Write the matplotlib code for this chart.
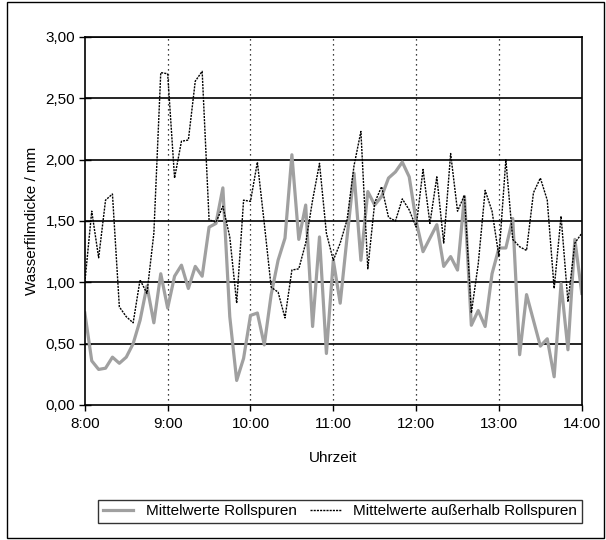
import matplotlib
matplotlib.use("Agg")
import matplotlib.pyplot as plt
import numpy as np
import pandas as pd

plt.rcParams['font.family'] = ['Liberation Sans', 'DejaVu Sans']

# Uhrzeiten im 5-Minuten-Takt (8:00 bis 14:00)
uhrzeit = pd.date_range("2000-01-01 08:00", "2000-01-01 14:00", freq="5min")

# Mittelwerte in den Rollspuren (graue Linie)
rollspuren = [0.75, 0.36, 0.29, 0.30, 0.39, 0.34, 0.39, 0.50, 0.69, 0.97,
              0.67, 1.07, 0.79, 1.05, 1.14, 0.95, 1.13, 1.05, 1.45, 1.48,
              1.77, 0.72, 0.20, 0.38, 0.73, 0.75, 0.49, 0.90, 1.18, 1.36,
              2.04, 1.35, 1.63, 0.64, 1.37, 0.42, 1.18, 0.83, 1.37, 1.89,
              1.18, 1.74, 1.63, 1.70, 1.85, 1.90, 1.98, 1.86, 1.50, 1.25,
              1.36, 1.47, 1.13, 1.21, 1.10, 1.70, 0.65, 0.77, 0.64, 1.07,
              1.28, 1.28, 1.52, 0.41, 0.90, 0.69, 0.48, 0.54, 0.23, 0.99,
              0.45, 1.35, 0.91]

# Mittelwerte ausserhalb der Rollspuren (schwarze gepunktete Linie)
ausserhalb = [1.00, 1.58, 1.20, 1.67, 1.72, 0.80, 0.72, 0.67, 1.02, 0.91,
              1.40, 2.71, 2.70, 1.85, 2.15, 2.16, 2.64, 2.72, 1.51, 1.49,
              1.62, 1.37, 0.83, 1.67, 1.66, 1.98, 1.48, 0.96, 0.92, 0.71,
              1.10, 1.11, 1.32, 1.67, 1.97, 1.40, 1.18, 1.32, 1.51, 1.95,
              2.23, 1.11, 1.65, 1.78, 1.53, 1.50, 1.68, 1.59, 1.45, 1.92,
              1.48, 1.86, 1.32, 2.05, 1.58, 1.71, 0.75, 1.15, 1.75, 1.58,
              1.21, 2.00, 1.35, 1.29, 1.26, 1.73, 1.85, 1.67, 0.95, 1.54,
              0.84, 1.32, 1.40]

x_ticks = ["8:00", "9:00", "10:00", "11:00", "12:00", "13:00", "14:00"]
y_ticks = [0.0, 0.5, 1.0, 1.5, 2.0, 2.5, 3.0]

# Stunden seit 8:00 als x-Achse
stunden = (uhrzeit - uhrzeit[0]).total_seconds() / 3600.0

fig = plt.figure(figsize=(6.06, 5.40), dpi=100)
ax = fig.add_axes([0.140, 0.250, 0.820, 0.6815])

# Horizontale Gitterlinien und gepunktete Stundenlinien
for y in y_ticks[1:]:
    ax.axhline(y, color='black', linewidth=1.2, zorder=1)
for h in range(1, 6):
    ax.axvline(h, color='black', linestyle=(0, (1, 3)), linewidth=0.9, zorder=1)

ax.plot(stunden, rollspuren, color='#a0a0a0', linewidth=2.3, zorder=2,
        label='Mittelwerte Rollspuren')
ax.plot(stunden, ausserhalb, color='black', linestyle=(0, (1.5, 0.8)), linewidth=1.0,
        zorder=3, label='Mittelwerte außerhalb Rollspuren')

ax.set_xlim(0, 6)
ax.set_ylim(0, 3)
ax.set_xticks(range(7))
ax.set_xticklabels(x_ticks)
ax.set_yticks(y_ticks)
ax.set_yticklabels([f"{v:.2f}".replace('.', ',') for v in y_ticks])
ax.tick_params(axis='both', labelsize=11, width=1)
ax.tick_params(axis='x', direction='out', length=4, pad=5)
ax.tick_params(axis='y', direction='inout', length=8, pad=3)

for s in ax.spines.values():
    s.set_linewidth(1.2)

ax.set_xlabel('Uhrzeit', fontsize=11, labelpad=14)
ax.set_ylabel('Wasserfilmdicke / mm', fontsize=11, labelpad=5)

leg = ax.legend(loc='center', bbox_to_anchor=(0.561, 0.053), bbox_transform=fig.transFigure,
                ncol=2, fontsize=11, frameon=True, fancybox=False, edgecolor='black',
                handlelength=2.0, columnspacing=0.9, handletextpad=0.8, borderpad=0.3)
leg.get_frame().set_linewidth(1.0)

# Rahmen um die ganze Abbildung
fig.patches.append(plt.Rectangle((0.011, 0.004), 0.985, 0.992, transform=fig.transFigure,
                                 fill=False, edgecolor='black', linewidth=1.0))

fig.savefig('out.png', dpi=100)
